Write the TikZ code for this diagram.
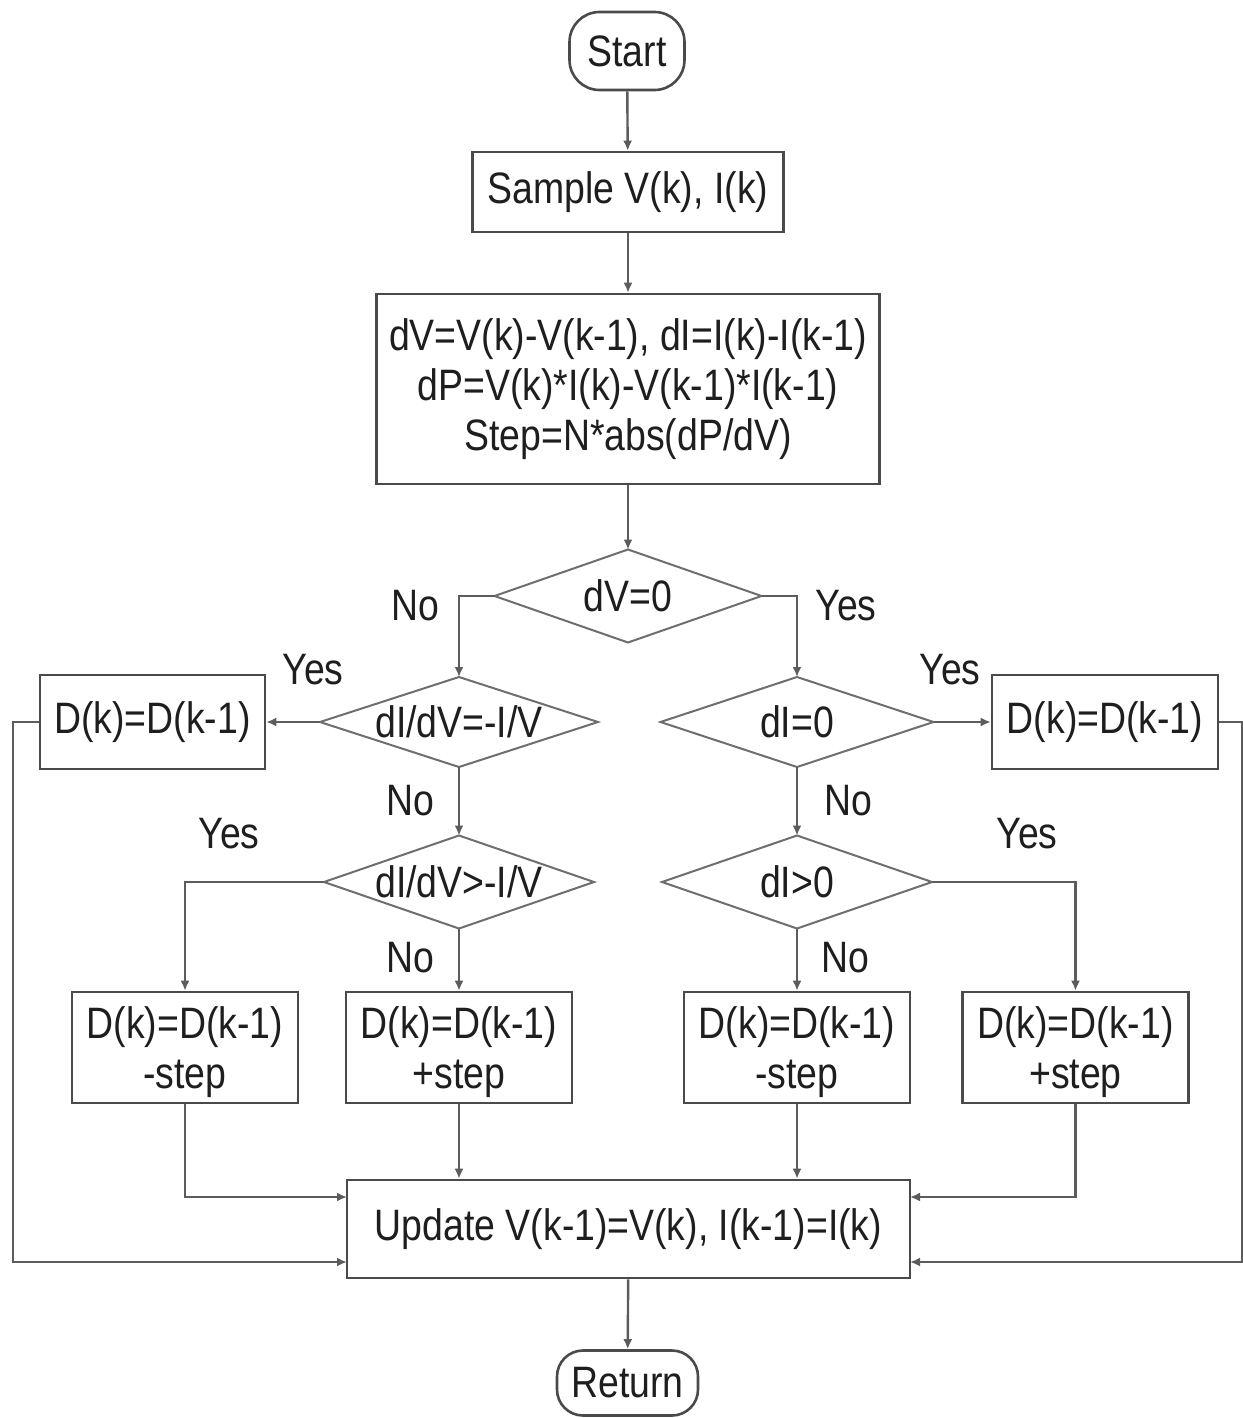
\documentclass[tikz,border=0pt]{standalone}
\usepackage{fontspec}
\setmainfont{Liberation Sans}[FakeStretch=0.85]
\usetikzlibrary{arrows.meta,shapes.geometric}
\definecolor{boxgray}{HTML}{4A4A4A}
\definecolor{diagray}{HTML}{6E6E6E}
\definecolor{linegray}{HTML}{5C5C5C}
\definecolor{txt}{HTML}{1E1E1E}
\tikzset{
  every node/.style={font=\fontsize{44}{50}\selectfont, text=txt},
  proc/.style={draw=boxgray, line width=2.6pt, fill=white, inner sep=0pt, align=center},
  twoline/.style={proc, minimum width=226pt, minimum height=111pt},
  twotext/.style={align=center, inner sep=0pt, yshift=-5pt},
  term/.style={proc, rounded corners=30pt},
  decision/.style={diamond, draw=diagray, line width=2pt, inner sep=0pt, outer sep=0pt},
  lbl/.style={inner sep=0pt},
  arr/.style={draw=linegray, line width=2.4pt, -{Latex[length=10pt,width=9pt]}}
}
\begin{document}
\begin{tikzpicture}[x=1pt,y=-1pt]
\useasboundingbox (0,0) rectangle (1242,1418);

% main column
\node[term, minimum width=115pt, minimum height=78pt] (start) at (627,51) {Start};
\node[proc, minimum width=311pt, minimum height=80pt] (sample) at (628,192) {Sample V(k), I(k)};
\node[proc, minimum width=503pt, minimum height=190pt] (calc) at (628,389)
  {dV=V(k)-V(k-1), dI=I(k)-I(k-1)\\ dP=V(k)*I(k)-V(k-1)*I(k-1)\\ Step=N*abs(dP/dV)};

% decisions
\node[decision, minimum width=267pt, minimum height=93pt, label=center:{dV=0}] (d0) at (628,596) {};
\node[decision, minimum width=278pt, minimum height=90pt, label=center:{dI/dV=-I/V}] (d1) at (459,722) {};
\node[decision, minimum width=273pt, minimum height=90pt, label=center:{dI=0}] (d2) at (797,722) {};
\node[decision, minimum width=270pt, minimum height=93pt, label=center:{dI/dV>-I/V}] (d3) at (459,882) {};
\node[decision, minimum width=270pt, minimum height=93pt, label=center:{dI>0}] (d4) at (797,882) {};

% process boxes
\node[proc, minimum width=225pt, minimum height=94pt] (bl) at (152.5,722) {D(k)=D(k-1)};
\node[proc, minimum width=226pt, minimum height=94pt] (br) at (1105,722) {D(k)=D(k-1)};
\node[twoline, label={[twotext]center:{D(k)=D(k-1)\\-step}}] (pa) at (185,1047.5) {};
\node[twoline, label={[twotext]center:{D(k)=D(k-1)\\+step}}] (pb) at (459,1047.5) {};
\node[twoline, label={[twotext]center:{D(k)=D(k-1)\\-step}}] (pc) at (797,1047.5) {};
\node[twoline, label={[twotext]center:{D(k)=D(k-1)\\+step}}] (pd) at (1075.5,1047.5) {};
\node[proc, minimum width=563pt, minimum height=98pt] (upd) at (628.5,1229) {Update V(k-1)=V(k), I(k-1)=I(k)};
\node[term, minimum width=141pt, minimum height=65pt, rounded corners=26pt] (ret) at (627.5,1383) {Return};

% entry points on the update box
\coordinate (uL2) at (347,1197);
\coordinate (uR2) at (910,1197);
\coordinate (uL) at (347,1262);
\coordinate (uR) at (910,1262);

% connectors
\draw[arr] (start) -- (sample);
\draw[arr] (sample) -- (calc);
\draw[arr] (calc) -- (d0);
\draw[arr] (d0.west) -| (d1.north);
\draw[arr] (d0.east) -| (d2.north);
\draw[arr] (d1.west) -- (bl.east);
\draw[arr] (d2.east) -- (br.west);
\draw[arr] (d1.south) -- (d3.north);
\draw[arr] (d2.south) -- (d4.north);
\draw[arr] (d3.west) -| (pa.north);
\draw[arr] (d3.south) -- (pb.north);
\draw[arr] (d4.south) -- (pc.north);
\draw[arr] (d4.east) -| (pd.north);
\draw[arr] (pa.south) |- (uL2);
\draw[arr] (pb.south) -- (pb.south |- upd.north);
\draw[arr] (pc.south) -- (pc.south |- upd.north);
\draw[arr] (pd.south) |- (uR2);
\draw[arr] (bl.west) -- ++(-26,0) |- (uL);
\draw[arr] (br.east) -- ++(22.5,0) |- (uR);
\draw[arr] (upd) -- (ret);

% branch labels
\node[lbl] (n0) at (415,606) {No};
\node[lbl] (y0) at (846,606) {Yes};
\node[lbl] (y1) at (313,670) {Yes};
\node[lbl] (y2) at (950,670) {Yes};
\node[lbl] (n1) at (410,801) {No};
\node[lbl] (n2) at (848,801) {No};
\node[lbl] (y3) at (229,834) {Yes};
\node[lbl] (y4) at (1027,834) {Yes};
\node[lbl] (n3) at (410,958) {No};
\node[lbl] (n4) at (845,958) {No};
\end{tikzpicture}
\end{document}
